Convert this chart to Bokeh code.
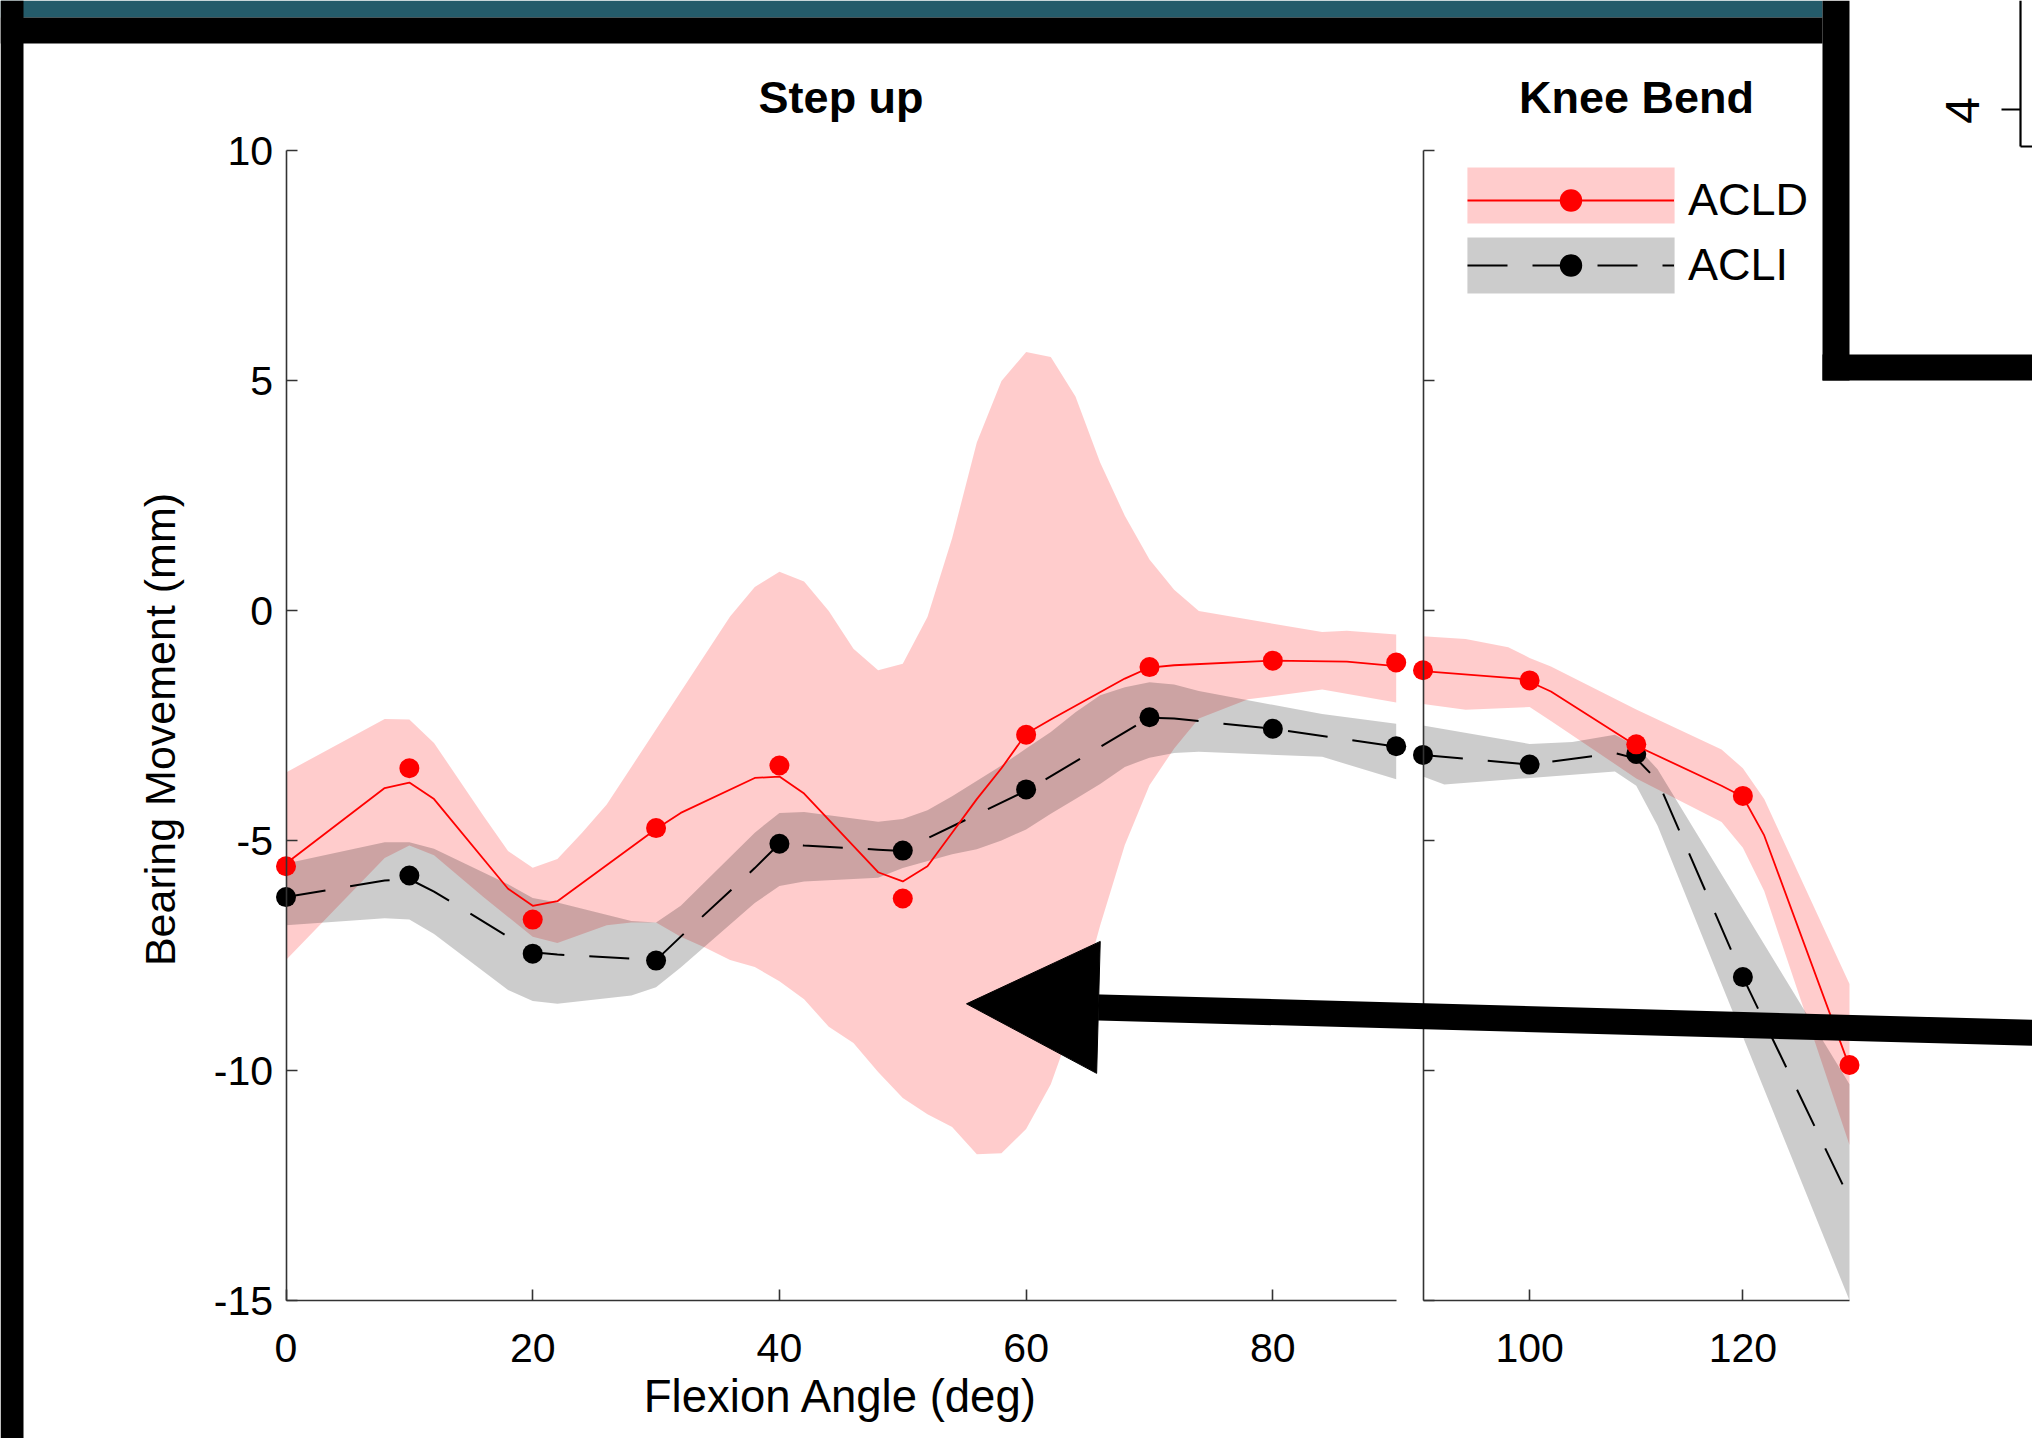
import math
from bokeh.plotting import figure
from bokeh.models import (Range1d, LinearAxis, FixedTicker, Legend, LegendItem,
                          Arrow, NormalHead)
from bokeh.core.properties import value
from bokeh.embed import file_html
from bokeh.resources import INLINE

# ---------------------------------------------------------------- data
panel_titles = ["Step up", "Knee Bend"]
x_label = "Flexion Angle (deg)"
y_label = "Bearing Movement (mm)"
series_names = ["ACLD", "ACLI"]

y_ticks = [-15, -10, -5, 0, 5, 10]
y_tick_labels = ["-15", "-10", "-5", "0", "5", "10"]
x_ticks_step = [0, 20, 40, 60, 80]
x_tick_labels_step = ["0", "20", "40", "60", "80"]
x_ticks_knee = [100, 120]
x_tick_labels_knee = ["100", "120"]

# Step up, ACLD (red)
acld_step_x = [0, 8, 10, 12, 18, 20, 22, 30, 32, 38, 40, 42, 48, 50, 52, 54, 56, 58,
               60, 62, 68, 70, 72, 80, 86, 90]
acld_step_mean = [-5.50, -3.86, -3.74, -4.10, -6.05, -6.42, -6.32, -4.75, -4.40, -3.64,
                  -3.61, -3.98, -5.69, -5.89, -5.56, -4.83, -4.10, -3.43, -2.68, -2.37,
                  -1.48, -1.24, -1.19, -1.09, -1.11, -1.21]
acld_step_upper_x = [0, 8, 10, 12, 16, 18, 20, 22, 24, 26, 36, 38, 40, 42, 44, 46, 48, 50,
                     52, 54, 56, 58, 60, 62, 64, 66, 68, 70, 72, 74, 84, 86, 90]
acld_step_upper = [-3.52, -2.36, -2.37, -2.88, -4.46, -5.23, -5.59, -5.40, -4.83, -4.22,
                   -0.13, 0.51, 0.84, 0.63, -0.01, -0.83, -1.30, -1.16, -0.14, 1.57,
                   3.65, 4.99, 5.62, 5.51, 4.65, 3.22, 2.06, 1.11, 0.45, -0.01, -0.47,
                   -0.44, -0.52]
acld_step_lower_x = [0, 8, 10, 12, 16, 20, 22, 26, 28, 30, 32, 34, 36, 38, 40, 42, 44, 46,
                     48, 50, 52, 54, 56, 58, 60, 62, 64, 66, 68, 70, 72, 74, 78, 84, 90]
acld_step_lower = [-7.60, -5.38, -5.11, -5.32, -6.23, -7.09, -7.23, -6.84, -6.78, -6.78,
                   -7.09, -7.33, -7.60, -7.75, -8.06, -8.45, -9.05, -9.40, -10.03, -10.60,
                   -10.95, -11.23, -11.82, -11.80, -11.27, -10.30, -8.80, -6.85, -5.10,
                   -3.80, -3.00, -2.35, -1.93, -1.72, -2.00]
acld_step_marker_x = [0, 10, 20, 30, 40, 50, 60, 70, 80, 90]
acld_step_markers = [-5.56, -3.43, -6.72, -4.73, -3.37, -6.26, -2.70, -1.23, -1.09, -1.13]

# Step up, ACLI (black / grey)
acli_step_x = [0, 8, 10, 12, 18, 20, 22, 28, 30, 32, 38, 40, 42, 48, 50, 52, 60, 70, 72,
               80, 90]
acli_step_mean = [-6.23, -5.87, -5.84, -6.11, -7.09, -7.43, -7.48, -7.57, -7.60, -7.09,
                  -5.60, -5.07, -5.11, -5.20, -5.23, -4.95, -3.92, -2.33, -2.35, -2.57,
                  -2.96]
acli_step_upper_x = [0, 8, 10, 12, 18, 20, 22, 28, 30, 32, 38, 40, 42, 48, 50, 52, 54, 58,
                     60, 62, 64, 66, 68, 70, 72, 74, 84, 90]
acli_step_upper = [-5.50, -5.04, -5.04, -5.18, -5.95, -6.25, -6.35, -6.75, -6.78, -6.42,
                   -4.83, -4.40, -4.38, -4.59, -4.53, -4.34, -4.04, -3.37, -3.00, -2.64,
                   -2.21, -1.84, -1.67, -1.56, -1.61, -1.75, -2.25, -2.46]
acli_step_lower_x = [0, 8, 10, 12, 18, 20, 22, 28, 30, 32, 38, 40, 42, 48, 50, 54, 56, 58,
                     60, 62, 64, 66, 68, 70, 72, 74, 84, 90]
acli_step_lower = [-6.84, -6.69, -6.72, -7.03, -8.25, -8.49, -8.55, -8.37, -8.19, -7.76,
                   -6.36, -5.99, -5.89, -5.81, -5.60, -5.30, -5.19, -5.00, -4.76, -4.42,
                   -4.10, -3.77, -3.40, -3.20, -3.10, -3.07, -3.18, -3.67]
acli_step_marker_x = [0, 10, 20, 30, 40, 50, 60, 70, 80, 90]
acli_step_markers = [-6.23, -5.76, -7.46, -7.61, -5.07, -5.22, -3.89, -2.32, -2.57, -2.95]

# Knee Bend, ACLD
acld_knee_x = [90, 99, 100, 102, 110, 118, 120, 122, 130]
acld_knee_mean = [-1.32, -1.48, -1.55, -1.76, -2.94, -3.81, -4.05, -4.89, -9.92]
acld_knee_upper_x = [90, 94, 98, 100, 102, 110, 118, 120, 122, 130]
acld_knee_upper = [-0.56, -0.62, -0.80, -1.03, -1.22, -2.15, -3.02, -3.43, -4.10, -8.12]
acld_knee_lower_x = [90, 94, 100, 102, 110, 118, 120, 122, 130]
acld_knee_lower = [-2.03, -2.16, -2.10, -2.40, -3.65, -4.60, -5.16, -6.10, -11.62]
acld_knee_marker_x = [90, 100, 110, 120, 130]
acld_knee_markers = [-1.30, -1.52, -2.91, -4.03, -9.88]

# Knee Bend, ACLI
acli_knee_x = [90, 100, 108, 110, 112, 120, 130]
acli_knee_mean = [-3.14, -3.35, -3.10, -3.22, -3.70, -7.97, -12.79]
acli_knee_upper_x = [90, 100, 104, 108, 110, 112, 130]
acli_knee_upper = [-2.50, -2.90, -2.86, -2.70, -2.95, -3.45, -10.30]
acli_knee_lower_x = [90, 92, 99, 108, 110, 112, 130]
acli_knee_lower = [-3.61, -3.78, -3.66, -3.50, -3.81, -4.68, -15.00]
acli_knee_marker_x = [90, 100, 110, 120]
acli_knee_markers = [-3.14, -3.35, -3.12, -7.97]

# ---------------------------------------------------------------- layout (page pixels)
FONT = "Liberation Sans"
W, H = 2032, 1438
TXT_DY = 15   # compensation for where the text glyph puts its alphabetic baseline

def lin_range(v0, p0, v1, p1, pa, pb):
    s = (p1 - p0) / (v1 - v0)
    return Range1d(v0 + (pa - p0) / s, v0 + (pb - p0) / s)

# left panel: x 0..90 -> px 285.5..1395.7 ; right panel: x 90..130 -> px 1422.5..1849
rng_xL = lin_range(0, 285.5, 90, 1395.7, 0, W)
rng_xR = lin_range(90, 1422.5, 130, 1849.0, 0, W)
# y: 10 -> px 150 ; -15 -> px 1300 (range start = bottom of frame)
rng_yD = lin_range(10, 150.0, -15, 1300.0, H, 0)

p = figure(width=W, height=H, x_range=Range1d(0, W), y_range=Range1d(H, 0),
           x_axis_type=None, y_axis_type=None, toolbar_location=None,
           output_backend="svg", min_border=0, outline_line_color=None,
           background_fill_color="white", border_fill_color="white")
p.extra_x_ranges = {"xL": rng_xL, "xR": rng_xR}
p.extra_y_ranges = {"yD": rng_yD}

# ---------------------------------------------------------------- slide decorations
TEAL = "#245B6A"
p.quad(left=[0], right=[1822], top=[0], bottom=[17], fill_color=TEAL, line_color=None)
p.quad(left=[0, 0, 1822, 1822], right=[1822, 23, 1849, 2040],
       top=[17, 0, 0, 354], bottom=[43, 1440, 380, 380],
       fill_color="black", line_color=None)
# fragment of neighbouring chart (top right)
p.segment(x0=[2020, 2020, 2001], y0=[0, 146, 109], x1=[2020, 2040, 2020], y1=[146, 146, 109],
          line_color="black", line_width=2.2)
p.text(x=[1977 - TXT_DY], y=[110], text=["4"], angle=math.pi / 2, text_font=value(FONT),
       text_font_size="48px", text_align="center", text_baseline="alphabetic",
       text_color="black")

# ---------------------------------------------------------------- data renderers
RED, BLK = "red", "black"
DASH = "40 25"

def band(xu, yu, xl, yl, color, xr):
    return p.patch(x=list(xu) + list(xl)[::-1], y=list(yu) + list(yl)[::-1],
                   fill_color=color, fill_alpha=0.2, line_color=None,
                   x_range_name=xr, y_range_name="yD")

bd_s = band(acld_step_upper_x, acld_step_upper, acld_step_lower_x, acld_step_lower, RED, "xL")
bd_k = band(acld_knee_upper_x, acld_knee_upper, acld_knee_lower_x, acld_knee_lower, RED, "xR")
bi_s = band(acli_step_upper_x, acli_step_upper, acli_step_lower_x, acli_step_lower, BLK, "xL")
bi_k = band(acli_knee_upper_x, acli_knee_upper, acli_knee_lower_x, acli_knee_lower, BLK, "xR")

li_s = p.line(acli_step_x, acli_step_mean, line_color=BLK, line_width=2, line_dash=DASH,
              x_range_name="xL", y_range_name="yD")
p.line(acli_knee_x, acli_knee_mean, line_color=BLK, line_width=2, line_dash=DASH,
       x_range_name="xR", y_range_name="yD")
mi_s = p.scatter(acli_step_marker_x, acli_step_markers, size=20, marker="circle",
                 fill_color=BLK, line_color=None, x_range_name="xL", y_range_name="yD")
p.scatter(acli_knee_marker_x, acli_knee_markers, size=20, marker="circle",
          fill_color=BLK, line_color=None, x_range_name="xR", y_range_name="yD")

ld_s = p.line(acld_step_x, acld_step_mean, line_color=RED, line_width=1.8,
              x_range_name="xL", y_range_name="yD")
p.line(acld_knee_x, acld_knee_mean, line_color=RED, line_width=1.8,
       x_range_name="xR", y_range_name="yD")
md_s = p.scatter(acld_step_marker_x, acld_step_markers, size=20, marker="circle",
                 fill_color=RED, line_color=None, x_range_name="xL", y_range_name="yD")
p.scatter(acld_knee_marker_x, acld_knee_markers, size=20, marker="circle",
          fill_color=RED, line_color=None, x_range_name="xR", y_range_name="yD")

# ---------------------------------------------------------------- axes
AX_COL = "#333333"

def style(ax, standoff):
    ax.axis_line_color = AX_COL
    ax.axis_line_width = 1.6
    ax.major_tick_line_color = AX_COL
    ax.major_tick_line_width = 1.6
    ax.major_tick_in = 11
    ax.major_tick_out = 0
    ax.minor_tick_line_color = None
    ax.major_label_text_font = FONT
    ax.major_label_text_font_size = "41px"
    ax.major_label_text_color = "black"
    ax.major_label_standoff = standoff

yL = LinearAxis(x_range_name="xL", y_range_name="yD", fixed_location=0, bounds=(-15, 10),
                ticker=FixedTicker(ticks=y_ticks),
                major_label_overrides=dict(zip(y_ticks, y_tick_labels)))
style(yL, 13)
p.add_layout(yL, "left")

xL = LinearAxis(x_range_name="xL", y_range_name="yD", fixed_location=-15, bounds=(0, 90),
                ticker=FixedTicker(ticks=x_ticks_step),
                major_label_overrides=dict(zip(x_ticks_step, x_tick_labels_step)))
style(xL, 33)
p.add_layout(xL, "below")

yR = LinearAxis(x_range_name="xR", y_range_name="yD", fixed_location=90, bounds=(-15, 10),
                ticker=FixedTicker(ticks=y_ticks),
                major_label_overrides={t: "" for t in y_ticks})
style(yR, 13)
p.add_layout(yR, "left")

xR = LinearAxis(x_range_name="xR", y_range_name="yD", fixed_location=-15, bounds=(90, 130),
                ticker=FixedTicker(ticks=x_ticks_knee),
                major_label_overrides=dict(zip(x_ticks_knee, x_tick_labels_knee)))
style(xR, 33)
p.add_layout(xR, "below")

# ---------------------------------------------------------------- titles & axis labels
p.text(x=[840.6, 1636.0], y=[111.5 - TXT_DY] * 2, text=panel_titles, text_font=value(FONT),
       text_font_style="bold", text_font_size="45px", text_align="center",
       text_baseline="alphabetic", text_color="black")
p.text(x=[840.6], y=[1411 - TXT_DY], text=[x_label], text_font=value(FONT),
       text_font_size="45.5px", text_align="center", text_baseline="alphabetic",
       text_color="black")
p.text(x=[174.5 - TXT_DY], y=[729], text=[y_label], angle=math.pi / 2,
       text_font=value(FONT), text_font_size="43px", text_align="center",
       text_baseline="alphabetic", text_color="black")

# ---------------------------------------------------------------- legend
# patches (area legend glyphs are drawn 10% inset, so their box is larger)
legend_bands = Legend(items=[LegendItem(label="", renderers=[bd_s]),
                             LegendItem(label="", renderers=[bi_s])],
                      location=(1441, H - 300), orientation="vertical",
                      glyph_width=259, glyph_height=70, label_height=70, spacing=-5,
                      padding=0, margin=0, label_standoff=0, label_width=0,
                      border_line_color=None, background_fill_alpha=0,
                      label_text_font_size="10px")
p.add_layout(legend_bands)
legend = Legend(items=[LegendItem(label=series_names[0], renderers=[ld_s, md_s]),
                       LegendItem(label=series_names[1], renderers=[li_s, mi_s])],
                location=(1467, H - 293), orientation="vertical",
                glyph_width=207, glyph_height=56, label_height=56, spacing=9,
                padding=0, margin=0, label_standoff=14, border_line_color=None,
                background_fill_alpha=0, label_text_font=FONT,
                label_text_font_size="45px", label_text_color="black")
p.add_layout(legend)

# ---------------------------------------------------------------- arrow
p.add_layout(Arrow(end=NormalHead(size=132, fill_color="black", line_color="black",
                                  line_width=1),
                   x_start=2045, y_start=1032.7, x_end=966, y_end=1003.3,
                   line_color="black", line_width=26))

open("out.html", "w").write(file_html(p, INLINE))
